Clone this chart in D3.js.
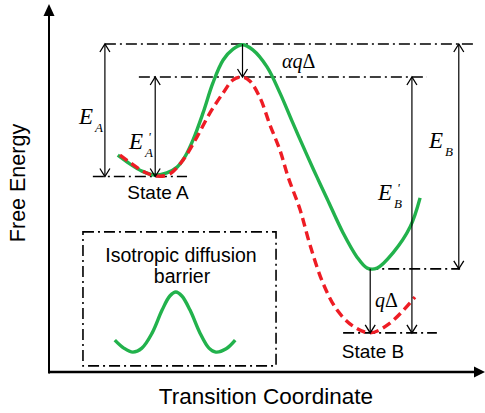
<!DOCTYPE html>
<html>
<head>
<meta charset="utf-8">
<script src="https://cdn.jsdelivr.net/npm/d3@7"></script>
<style>
  body { margin: 0; background: #fff; }
  svg { display: block; }
  .lbl { font-family: "Liberation Sans", Arial, sans-serif; fill: #000; }
  .math { font-family: "Liberation Serif", "Times New Roman", serif; font-style: italic; fill: #000; }
</style>
</head>
<body>
<div id="chart"></div>
<script>
// transition coordinate (0-10) and free energy (0-10)
// green: original barrier, red dashed: barrier tilted by the driving force
var greenX = [1.60,1.88,2.16,2.47,2.74,2.98,3.16,3.35,3.58,3.81,4.05,4.28,4.50,4.74,5.07,5.37,5.67,6.00,6.23,6.47,6.84,7.16,7.40,7.63,8.00,8.40,8.63];
var greenY = [5.99,5.75,5.55,5.44,5.50,5.66,5.94,6.41,7.15,7.98,8.62,8.92,9.04,8.90,8.43,7.71,6.88,5.99,5.39,4.78,3.84,3.18,2.87,2.87,3.29,4.01,4.81];

var redX = [1.65,1.93,2.23,2.53,2.81,3.12,3.44,3.74,4.05,4.28,4.50,4.67,4.91,5.14,5.37,5.56,5.84,6.07,6.37,6.70,7.07,7.47,7.93,8.51];
var redY = [5.99,5.75,5.52,5.41,5.47,5.86,6.49,7.15,7.71,8.07,8.15,8.04,7.57,6.82,6.13,5.39,4.48,3.51,2.46,1.71,1.27,1.08,1.35,2.07];

// inset: isotropic barrier
var insetX = [1.53,1.74,1.95,2.16,2.40,2.63,2.81,2.95,3.09,3.28,3.51,3.72,3.88,4.12,4.33];
var insetY = [0.88,0.66,0.55,0.66,1.08,1.71,2.10,2.21,2.10,1.71,1.08,0.66,0.55,0.64,0.88];

// dash-dot reference levels
var levelEnergy = [9.06, 8.15, 5.40, 2.85, 1.08];
var levelFrom   = [1.30, 2.09, 1.02, 7.40, 6.84];
var levelTo     = [9.86, 8.79, 3.21, 9.56, 9.02];

// vertical arrows between levels
var arrowNames  = ["EA", "EA'", "aqD", "EB'", "EB", "qD"];
var arrowX      = [1.30, 2.47, 4.50, 8.44, 9.53, 7.47];
var arrowTop    = [9.06, 8.15, 9.06, 8.15, 9.06, 2.85];
var arrowBottom = [5.40, 5.40, 8.15, 1.08, 2.85, 1.08];
var arrowDouble = [true, true, false, true, true, false];

var insetBoxX = [0.79, 5.28];
var insetBoxY = [0.17, 3.87];

var W = 485, H = 413;
var svg = d3.select("#chart").append("svg").attr("width", W).attr("height", H);

var x = d3.scaleLinear().domain([0, 10]).range([49, 479]);
var y = d3.scaleLinear().domain([0, 10]).range([372, 10]);

var defs = svg.append("defs");
defs.append("marker")
    .attr("id", "chev")
    .attr("markerUnits", "userSpaceOnUse")
    .attr("markerWidth", 20).attr("markerHeight", 20)
    .attr("viewBox", "-10 -10 20 20")
    .attr("refX", 0).attr("refY", 0)
    .attr("orient", "auto-start-reverse")
  .append("path")
    .attr("d", "M-8,-5L0,0L-8,5")
    .attr("fill", "none").attr("stroke", "#000").attr("stroke-width", 1.3);

var dashDot = "11,4,2,4";

// axes
svg.append("line").attr("x1", x(0)).attr("x2", x(0)).attr("y1", y(0) + 1.5).attr("y2", 14)
    .attr("stroke", "#000").attr("stroke-width", 2);
svg.append("path").attr("d", "M" + x(0) + ",4L" + (x(0) - 5.5) + ",16L" + (x(0) + 5.5) + ",16Z").attr("fill", "#000");
svg.append("line").attr("x1", x(0)).attr("x2", 476).attr("y1", y(0)).attr("y2", y(0))
    .attr("stroke", "#000").attr("stroke-width", 2.6);
svg.append("path").attr("d", "M485," + y(0) + "L474," + (y(0) - 5.5) + "L474," + (y(0) + 5.5) + "Z").attr("fill", "#000");

svg.append("text").attr("class", "lbl")
    .attr("transform", "translate(25,183) rotate(-90)")
    .attr("text-anchor", "middle").attr("font-size", 21.5)
    .text("Free Energy");
svg.append("text").attr("class", "lbl")
    .attr("x", 266).attr("y", 404)
    .attr("text-anchor", "middle").attr("font-size", 22.5)
    .text("Transition Coordinate");

// reference levels
svg.selectAll(".level").data(levelEnergy).enter().append("line")
    .attr("class", "level")
    .attr("x1", function(d, i){ return x(levelFrom[i]); })
    .attr("x2", function(d, i){ return x(levelTo[i]); })
    .attr("y1", function(d){ return y(d); })
    .attr("y2", function(d){ return y(d); })
    .attr("stroke", "#000").attr("stroke-width", 1.6)
    .attr("stroke-dasharray", dashDot);

// inset box
svg.append("rect")
    .attr("x", x(insetBoxX[0])).attr("y", y(insetBoxY[1]))
    .attr("width", x(insetBoxX[1]) - x(insetBoxX[0]))
    .attr("height", y(insetBoxY[0]) - y(insetBoxY[1]))
    .attr("fill", "none").attr("stroke", "#000").attr("stroke-width", 1.6)
    .attr("stroke-dasharray", dashDot);

var line = d3.line()
    .x(function(d){ return x(d[0]); })
    .y(function(d){ return y(d[1]); })
    .curve(d3.curveCatmullRom.alpha(0.5));

svg.append("path")
    .datum(d3.zip(greenX, greenY))
    .attr("d", line)
    .attr("fill", "none").attr("stroke", "#22b24c").attr("stroke-width", 3.4);

svg.append("path")
    .datum(d3.zip(redX, redY))
    .attr("d", line)
    .attr("fill", "none").attr("stroke", "#ee1c24").attr("stroke-width", 3.4)
    .attr("stroke-dasharray", "9,5");

svg.append("path")
    .datum(d3.zip(insetX, insetY))
    .attr("d", line)
    .attr("fill", "none").attr("stroke", "#22b24c").attr("stroke-width", 3.4);

// arrows
svg.selectAll(".arr").data(arrowNames).enter().append("line")
    .attr("class", "arr")
    .attr("x1", function(d, i){ return x(arrowX[i]); })
    .attr("x2", function(d, i){ return x(arrowX[i]); })
    .attr("y1", function(d, i){ return y(arrowTop[i]); })
    .attr("y2", function(d, i){ return y(arrowBottom[i]); })
    .attr("stroke", "#000").attr("stroke-width", 1.2)
    .attr("marker-end", "url(#chev)")
    .attr("marker-start", function(d, i){ return arrowDouble[i] ? "url(#chev)" : null; });

// math labels
function energyLabel(ex, ey, sub, prime) {
  svg.append("text").attr("class", "math").attr("x", ex).attr("y", ey)
      .attr("font-size", 23).text("E");
  svg.append("text").attr("class", "math").attr("x", ex + 16).attr("y", ey + 8)
      .attr("font-size", 13).text(sub);
  if (prime) {
    svg.append("text").attr("class", "math").attr("x", ex + 19).attr("y", ey - 8)
        .attr("font-size", 13).text("'");
  }
}
energyLabel(79, 124, "A", false);
energyLabel(129, 149, "A", true);
energyLabel(429, 148, "B", false);
energyLabel(378, 200, "B", true);

var aq = svg.append("text").attr("class", "math").attr("x", 282).attr("y", 68).attr("font-size", 20);
aq.append("tspan").text("αq");
aq.append("tspan").attr("font-style", "normal").text("Δ");
var q = svg.append("text").attr("class", "math").attr("x", 375).attr("y", 307).attr("font-size", 20);
q.append("tspan").text("q");
q.append("tspan").attr("font-style", "normal").text("Δ");

svg.append("text").attr("class", "lbl").attr("x", 158).attr("y", 199)
    .attr("text-anchor", "middle").attr("font-size", 19).text("State A");
svg.append("text").attr("class", "lbl").attr("x", 373).attr("y", 358)
    .attr("text-anchor", "middle").attr("font-size", 19).text("State B");

svg.append("text").attr("class", "lbl").attr("x", 181).attr("y", 262)
    .attr("text-anchor", "middle").attr("font-size", 19.5).text("Isotropic diffusion");
svg.append("text").attr("class", "lbl").attr("x", 182).attr("y", 283)
    .attr("text-anchor", "middle").attr("font-size", 19.5).text("barrier");
</script>
</body>
</html>
